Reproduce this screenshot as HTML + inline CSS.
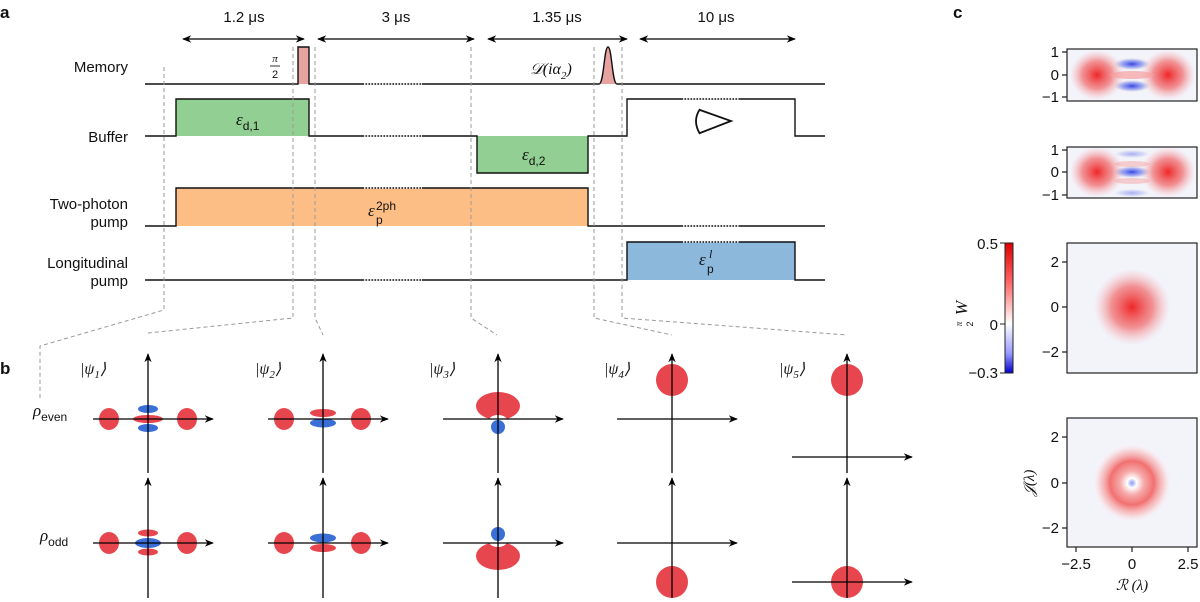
<!DOCTYPE html>
<html><head><meta charset="utf-8"><style>
html,body{margin:0;padding:0;background:#fff}
svg{display:block}
text{font-family:"Liberation Sans",sans-serif;fill:#111}
.it{font-family:"Liberation Serif",serif;font-style:italic}
</style></head><body>
<svg width="1200" height="602" viewBox="0 0 1200 602" xmlns="http://www.w3.org/2000/svg">
<defs>
<marker id="ah" viewBox="0 0 10 10" refX="9" refY="5" markerWidth="7" markerHeight="7" orient="auto-start-reverse"><path d="M0,1 L10,5 L0,9 L3,5 Z" fill="#000"/></marker>
<radialGradient id="rb"><stop offset="0" stop-color="#ee1c1c" stop-opacity="0.95"/><stop offset="0.55" stop-color="#f05050" stop-opacity="0.6"/><stop offset="1" stop-color="#f8a0a0" stop-opacity="0"/></radialGradient>
<radialGradient id="bb"><stop offset="0" stop-color="#2233dd" stop-opacity="0.9"/><stop offset="0.6" stop-color="#5566ee" stop-opacity="0.5"/><stop offset="1" stop-color="#99a" stop-opacity="0"/></radialGradient>
<radialGradient id="ring"><stop offset="0" stop-color="#8899ee"/><stop offset="0.12" stop-color="#fff"/><stop offset="0.3" stop-color="#f6aaaa"/><stop offset="0.55" stop-color="#f27070"/><stop offset="0.8" stop-color="#f8b8b8" stop-opacity="0.6"/><stop offset="1" stop-color="#fff" stop-opacity="0"/></radialGradient>
<linearGradient id="cb" x1="0" y1="0" x2="0" y2="1"><stop offset="0" stop-color="#d00"/><stop offset="0.3" stop-color="#f66"/><stop offset="0.62" stop-color="#fff"/><stop offset="0.85" stop-color="#99f"/><stop offset="1" stop-color="#00c"/></linearGradient>
</defs>

<text x="0" y="18" font-weight="bold" font-size="17">a</text>
<g font-size="15" text-anchor="middle">
<text x="244" y="22">1.2 μs</text><text x="396" y="22">3 μs</text><text x="557" y="22">1.35 μs</text><text x="716" y="22">10 μs</text>
</g>
<g stroke="#000" stroke-width="1.3" marker-start="url(#ah)" marker-end="url(#ah)">
<line x1="183" y1="39" x2="304" y2="39"/><line x1="318" y1="39" x2="474" y2="39"/><line x1="488" y1="39" x2="627" y2="39"/><line x1="640" y1="39" x2="795" y2="39"/>
</g>
<g font-size="15" text-anchor="end">
<text x="128" y="72">Memory</text>
<text x="128" y="142">Buffer</text>
<text x="128" y="209">Two-photon</text><text x="128" y="227">pump</text>
<text x="128" y="268">Longitudinal</text><text x="128" y="286">pump</text>
</g>
<rect x="176" y="99" width="133" height="37" fill="#92cf92"/>
<rect x="477" y="136" width="111" height="37" fill="#92cf92"/>
<rect x="176" y="188" width="412" height="38" fill="#fdbe86"/>
<rect x="627" y="242" width="168" height="38" fill="#8cb8dc"/>
<rect x="298" y="47" width="11" height="37" fill="#e6a3a0"/>
<path d="M599,84 C604,84 604,47 608,47 C612,47 612,84 617,84 Z" fill="#e6a3a0"/>
<g fill="none" stroke="#111" stroke-width="1.4">
<path d="M145,84 H298 V47 H309 V84 H599 C604,84 604,47 608,47 C612,47 612,84 617,84 H825"/>
<path d="M145,136 H176 V99 H309 V136 H477 V173 H588 V136 H627 V99 H795 V136 H825"/>
<path d="M145,226 H176 V188 H588 V226 H825"/>
<path d="M145,280 H627 V242 H795 V280 H825"/>
<path d="M700,110 L731,121 L700,133" stroke-width="1.8"/>
<path d="M700,109 Q692,121 700,134" stroke-width="1.8"/>
</g>
<g stroke="#fff" stroke-width="1.6" stroke-dasharray="1.5 1.5">
<line x1="364" y1="84" x2="422" y2="84"/><line x1="364" y1="136" x2="422" y2="136"/><line x1="364" y1="188" x2="422" y2="188"/><line x1="364" y1="280" x2="422" y2="280"/>
<line x1="683" y1="99" x2="740" y2="99"/><line x1="683" y1="242" x2="740" y2="242"/><line x1="683" y1="226" x2="740" y2="226"/>
</g>
<text x="236" y="125" font-size="17"><tspan class="it">ε</tspan><tspan font-size="12" dy="5">d,1</tspan></text>
<text x="522" y="160" font-size="17"><tspan class="it">ε</tspan><tspan font-size="12" dy="5">d,2</tspan></text>
<text x="368" y="216" font-size="17" class="it">ε</text><text x="376" y="224" font-size="12">p</text><text x="376" y="210" font-size="12">2ph</text>
<text x="699" y="265" font-size="17" class="it">ε</text><text x="707" y="273" font-size="12">p</text><text x="709" y="258" font-size="12" class="it">l</text>
<g text-anchor="middle">
<text x="275" y="62" class="it" font-size="11">π</text><line x1="270" y1="66" x2="280" y2="66" stroke="#000" stroke-width="0.8"/><text x="275" y="78" font-size="11">2</text>
</g>
<text x="530" y="74" font-size="16" class="it">𝒟(iα<tspan font-size="11" dy="5">2</tspan><tspan dy="-5">)</tspan></text>
<g fill="none" stroke="#999" stroke-width="1" stroke-dasharray="4 3">
<path d="M164,67 V310 L40,346 V400"/>
<path d="M293,47 V318 L148,333"/>
<path d="M315,47 V318 L323,335"/>
<path d="M471,47 V318 L497,335"/>
<path d="M594,47 V318 L672,335"/>
<path d="M622,47 V318 L847,335"/>
</g>

<text x="0" y="374" font-weight="bold" font-size="17">b</text>
<text x="33" y="416" font-size="17"><tspan class="it">ρ</tspan><tspan font-size="12" dy="5">even</tspan></text>
<text x="40" y="541" font-size="17"><tspan class="it">ρ</tspan><tspan font-size="12" dy="5">odd</tspan></text>
<g font-size="16">
<text x="80" y="374" class="it">|ψ<tspan font-size="11" dy="4">1</tspan><tspan dy="-4">⟩</tspan></text>
<text x="255" y="374" class="it">|ψ<tspan font-size="11" dy="4">2</tspan><tspan dy="-4">⟩</tspan></text>
<text x="429" y="374" class="it">|ψ<tspan font-size="11" dy="4">3</tspan><tspan dy="-4">⟩</tspan></text>
<text x="604" y="374" class="it">|ψ<tspan font-size="11" dy="4">4</tspan><tspan dy="-4">⟩</tspan></text>
<text x="779" y="374" class="it">|ψ<tspan font-size="11" dy="4">5</tspan><tspan dy="-4">⟩</tspan></text>
</g>
<g fill="#e8464e">
<ellipse cx="109" cy="419" rx="10" ry="11"/><ellipse cx="187" cy="419" rx="10" ry="11"/><ellipse cx="148" cy="419" rx="15" ry="4"/>
<ellipse cx="109" cy="543" rx="10" ry="11"/><ellipse cx="187" cy="543" rx="10" ry="11"/><ellipse cx="148" cy="533" rx="10" ry="3.5"/><ellipse cx="148" cy="552" rx="10" ry="3.5"/>
<ellipse cx="284" cy="419" rx="10" ry="11"/><ellipse cx="361" cy="419" rx="10" ry="11"/><ellipse cx="323" cy="413" rx="13" ry="4"/>
<ellipse cx="284" cy="543" rx="10" ry="11"/><ellipse cx="361" cy="543" rx="10" ry="11"/><ellipse cx="323" cy="548" rx="13" ry="4"/>
<ellipse cx="498" cy="406" rx="22" ry="14"/>
<ellipse cx="498" cy="556" rx="22" ry="14"/>
<ellipse cx="672" cy="380" rx="16" ry="16"/><ellipse cx="672" cy="582" rx="16" ry="16"/>
<ellipse cx="847" cy="380" rx="16" ry="16"/><ellipse cx="847" cy="582" rx="16" ry="16"/>
</g>
<g fill="#fff"><ellipse cx="498" cy="422" rx="10" ry="7"/><ellipse cx="498" cy="540" rx="10" ry="7"/></g>
<g fill="#3a6fd8">
<ellipse cx="148" cy="409" rx="10" ry="4"/><ellipse cx="148" cy="428" rx="10" ry="4"/>
<ellipse cx="148" cy="543" rx="13" ry="5"/>
<ellipse cx="323" cy="423" rx="13" ry="4.5"/><ellipse cx="323" cy="538" rx="13" ry="4.5"/>
<ellipse cx="498" cy="427" rx="7" ry="7"/><ellipse cx="498" cy="534" rx="7" ry="7"/>
</g>
<g stroke="#000" stroke-width="1.3" marker-end="url(#ah)">
<line x1="148" y1="473" x2="148" y2="354"/><line x1="148" y1="598" x2="148" y2="478"/>
<line x1="323" y1="473" x2="323" y2="354"/><line x1="323" y1="598" x2="323" y2="478"/>
<line x1="498" y1="473" x2="498" y2="354"/><line x1="498" y1="598" x2="498" y2="478"/>
<line x1="672" y1="473" x2="672" y2="354"/><line x1="672" y1="598" x2="672" y2="478"/>
<line x1="847" y1="473" x2="847" y2="354"/><line x1="847" y1="598" x2="847" y2="478"/>
<line x1="93" y1="419" x2="213" y2="419"/><line x1="93" y1="543" x2="213" y2="543"/>
<line x1="268" y1="419" x2="388" y2="419"/><line x1="268" y1="543" x2="388" y2="543"/>
<line x1="443" y1="419" x2="563" y2="419"/><line x1="443" y1="543" x2="563" y2="543"/>
<line x1="617" y1="419" x2="737" y2="419"/><line x1="617" y1="543" x2="737" y2="543"/>
<line x1="792" y1="457" x2="912" y2="457"/><line x1="792" y1="582" x2="912" y2="582"/>
</g>

<text x="953" y="18" font-weight="bold" font-size="17">c</text>
<g fill="#f3f3fa">
<rect x="1067" y="49" width="130" height="52"/><rect x="1067" y="147" width="130" height="51"/>
<rect x="1067" y="243" width="130" height="130"/><rect x="1067" y="418" width="130" height="129"/>
</g>
<ellipse cx="1097" cy="75" rx="27" ry="25" fill="url(#rb)"/><ellipse cx="1168" cy="75" rx="27" ry="25" fill="url(#rb)"/>
<ellipse cx="1132" cy="75" rx="22" ry="4" fill="#f5a0a0" opacity="0.7"/>
<ellipse cx="1132" cy="64" rx="18" ry="6" fill="url(#bb)"/><ellipse cx="1132" cy="86" rx="18" ry="6" fill="url(#bb)"/>
<ellipse cx="1097" cy="172" rx="27" ry="25" fill="url(#rb)"/><ellipse cx="1168" cy="172" rx="27" ry="25" fill="url(#rb)"/>
<ellipse cx="1132" cy="164" rx="18" ry="3" fill="#f5b0b0" opacity="0.6"/><ellipse cx="1132" cy="181" rx="18" ry="3" fill="#f5b0b0" opacity="0.6"/>
<ellipse cx="1132" cy="172" rx="18" ry="6" fill="url(#bb)"/>
<ellipse cx="1132" cy="154" rx="18" ry="4" fill="url(#bb)" opacity="0.4"/><ellipse cx="1132" cy="193" rx="18" ry="4" fill="url(#bb)" opacity="0.4"/>
<circle cx="1132" cy="307" r="38" fill="url(#rb)"/>
<circle cx="1132" cy="483" r="40" fill="url(#ring)"/>
<g fill="none" stroke="#222" stroke-width="1.2">
<rect x="1067" y="49" width="130" height="52"/><rect x="1067" y="147" width="130" height="51"/>
<rect x="1067" y="243" width="130" height="130"/><rect x="1067" y="418" width="130" height="129"/>
<path d="M1062,52H1067M1062,75H1067M1062,97H1067M1062,150H1067M1062,172H1067M1062,195H1067M1062,262H1067M1062,307H1067M1062,352H1067M1062,437H1067M1062,483H1067M1062,528H1067M1076,547V552M1132,547V552M1188,547V552"/>
</g>
<g font-size="15" text-anchor="end">
<text x="1059" y="57">1</text><text x="1059" y="80">0</text><text x="1059" y="102">−1</text>
<text x="1059" y="155">1</text><text x="1059" y="177">0</text><text x="1059" y="200">−1</text>
<text x="1059" y="267">2</text><text x="1059" y="312">0</text><text x="1059" y="357">−2</text>
<text x="1059" y="442">2</text><text x="1059" y="488">0</text><text x="1059" y="533">−2</text>
</g>
<g font-size="15" text-anchor="middle">
<text x="1076" y="569">−2.5</text><text x="1132" y="569">0</text><text x="1188" y="569">2.5</text>
<text x="1132" y="590" class="it">ℛ (λ)</text>
</g>
<text transform="translate(1034,483) rotate(-90)" font-size="15" text-anchor="middle" class="it">𝒥(λ)</text>
<rect x="1005" y="243" width="8" height="130" fill="url(#cb)" stroke="#222" stroke-width="1"/>
<path d="M1000,243H1005M1000,324H1005M1000,373H1005" stroke="#222"/>
<g font-size="15" text-anchor="end"><text x="998" y="249">0.5</text><text x="998" y="330">0</text><text x="998" y="378">−0.3</text></g>
<g transform="translate(967,312) rotate(-90)" text-anchor="middle">
<text x="4" y="0" class="it" font-size="17">W</text><text x="-12" y="-5" font-size="9" class="it">π</text><text x="-12" y="6" font-size="9">2</text>
</g>
</svg>
</body></html>
